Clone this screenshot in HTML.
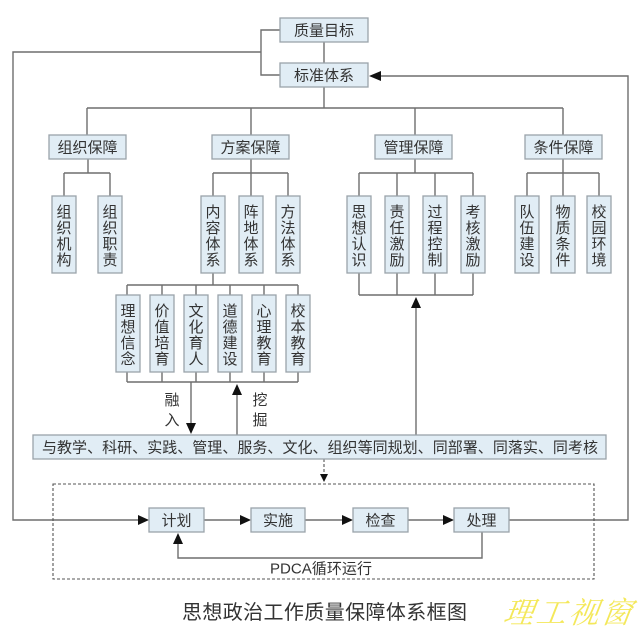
<!DOCTYPE html>
<html><head><meta charset="utf-8">
<style>
html,body{margin:0;padding:0;background:#fff;}
svg{display:block;}
text{font-family:"Liberation Sans","Noto Sans CJK SC",sans-serif;fill:#333;font-size:15px;}
.b{fill:#e1edf5;stroke:#9aa3aa;stroke-width:1.3;}
.l{stroke:#6e6e6e;stroke-width:1.4;fill:none;}
.d{stroke:#555;stroke-width:1.1;fill:none;stroke-dasharray:3,2;}
.ah{fill:#111;}
</style></head>
<body>
<svg width="640" height="636" viewBox="0 0 640 636" xmlns="http://www.w3.org/2000/svg">
<!-- connector lines -->
<path class="l" d="M324 42V63 M280 30H261V75H280 M261 52H13V520H140 M509 520H628V76H380 M324 87V108 M87 108H563 M87 108V135 M251 108V135 M415 108V135 M563 108V135"/>
<path class="l" d="M88 159V173 M64 173H110 M64 173V196 M110 173V196"/>
<path class="l" d="M251 159V173 M213 173H288 M213 173V196 M251 173V196 M288 173V196"/>
<path class="l" d="M415 159V173 M359 173H473 M359 173V196 M397 173V196 M435 173V196 M473 173V196"/>
<path class="l" d="M563 159V173 M527 173H599 M527 173V196 M563 173V196 M599 173V196"/>
<path class="l" d="M359 273V295 M397 273V295 M435 273V295 M473 273V295 M359 295H473 M416 306V435"/>
<path class="l" d="M213 273V285 M127 285H298 M127 285V295 M162 285V295 M196 285V295 M230 285V295 M264 285V295 M298 285V295"/>
<path class="l" d="M127 372V382 M162 372V382 M196 372V382 M230 372V382 M264 372V382 M298 372V382 M127 382H298 M191 382V425 M237 394V435"/>
<path class="l" d="M204 520H242 M305 520H344 M408 520H445 M482 532V558H178V543"/>
<!-- dashed -->
<rect class="d" x="53" y="484" width="541" height="95"/>
<path class="d" d="M324 459V476"/>
<!-- arrowheads -->
<polygon class="ah" points="369,76 381,71 381,81"/>
<polygon class="ah" points="416,297 411,308 421,308"/>
<polygon class="ah" points="191,434 186,423 196,423"/>
<polygon class="ah" points="237,384 232,395 242,395"/>
<polygon class="ah" points="324,482 320,474 328,474"/>
<polygon class="ah" points="149,520 138,515 138,525"/>
<polygon class="ah" points="251,520 240,515 240,525"/>
<polygon class="ah" points="353,520 342,515 342,525"/>
<polygon class="ah" points="454,520 443,515 443,525"/>
<polygon class="ah" points="178,533 173,544 183,544"/>
<!-- top boxes -->
<rect class="b" x="280" y="18" width="88" height="24"/>
<text x="324" y="35.5" text-anchor="middle">质量目标</text>
<rect class="b" x="280" y="63" width="88" height="24"/>
<text x="324" y="80.5" text-anchor="middle">标准体系</text>
<!-- level 2 -->
<rect class="b" x="49" y="135" width="77" height="24"/>
<text x="87.5" y="152.5" text-anchor="middle">组织保障</text>
<rect class="b" x="212" y="135" width="77" height="24"/>
<text x="250.5" y="152.5" text-anchor="middle">方案保障</text>
<rect class="b" x="375" y="135" width="77" height="24"/>
<text x="413.5" y="152.5" text-anchor="middle">管理保障</text>
<rect class="b" x="525" y="135" width="77" height="24"/>
<text x="563.5" y="152.5" text-anchor="middle">条件保障</text>
<!-- level 3 vertical boxes -->
<g text-anchor="middle">
<rect class="b" x="52" y="196" width="24" height="77"/>
<text x="64" y="217">组</text><text x="64" y="233">织</text><text x="64" y="249">机</text><text x="64" y="265">构</text>
<rect class="b" x="98" y="196" width="24" height="77"/>
<text x="110" y="217">组</text><text x="110" y="233">织</text><text x="110" y="249">职</text><text x="110" y="265">责</text>
<rect class="b" x="201" y="196" width="24" height="77"/>
<text x="213" y="217">内</text><text x="213" y="233">容</text><text x="213" y="249">体</text><text x="213" y="265">系</text>
<rect class="b" x="239" y="196" width="24" height="77"/>
<text x="251" y="217">阵</text><text x="251" y="233">地</text><text x="251" y="249">体</text><text x="251" y="265">系</text>
<rect class="b" x="276" y="196" width="24" height="77"/>
<text x="288" y="217">方</text><text x="288" y="233">法</text><text x="288" y="249">体</text><text x="288" y="265">系</text>
<rect class="b" x="347" y="196" width="24" height="77"/>
<text x="359" y="217">思</text><text x="359" y="233">想</text><text x="359" y="249">认</text><text x="359" y="265">识</text>
<rect class="b" x="385" y="196" width="24" height="77"/>
<text x="397" y="217">责</text><text x="397" y="233">任</text><text x="397" y="249">激</text><text x="397" y="265">励</text>
<rect class="b" x="423" y="196" width="24" height="77"/>
<text x="435" y="217">过</text><text x="435" y="233">程</text><text x="435" y="249">控</text><text x="435" y="265">制</text>
<rect class="b" x="461" y="196" width="24" height="77"/>
<text x="473" y="217">考</text><text x="473" y="233">核</text><text x="473" y="249">激</text><text x="473" y="265">励</text>
<rect class="b" x="515" y="196" width="24" height="77"/>
<text x="527" y="217">队</text><text x="527" y="233">伍</text><text x="527" y="249">建</text><text x="527" y="265">设</text>
<rect class="b" x="551" y="196" width="24" height="77"/>
<text x="563" y="217">物</text><text x="563" y="233">质</text><text x="563" y="249">条</text><text x="563" y="265">件</text>
<rect class="b" x="587" y="196" width="24" height="77"/>
<text x="599" y="217">校</text><text x="599" y="233">园</text><text x="599" y="249">环</text><text x="599" y="265">境</text>
<!-- level 4 -->
<rect class="b" x="116" y="295" width="24" height="77"/>
<text x="128" y="316">理</text><text x="128" y="332">想</text><text x="128" y="348">信</text><text x="128" y="364">念</text>
<rect class="b" x="150" y="295" width="24" height="77"/>
<text x="162" y="316">价</text><text x="162" y="332">值</text><text x="162" y="348">培</text><text x="162" y="364">育</text>
<rect class="b" x="184" y="295" width="24" height="77"/>
<text x="196" y="316">文</text><text x="196" y="332">化</text><text x="196" y="348">育</text><text x="196" y="364">人</text>
<rect class="b" x="218" y="295" width="24" height="77"/>
<text x="230" y="316">道</text><text x="230" y="332">德</text><text x="230" y="348">建</text><text x="230" y="364">设</text>
<rect class="b" x="252" y="295" width="24" height="77"/>
<text x="264" y="316">心</text><text x="264" y="332">理</text><text x="264" y="348">教</text><text x="264" y="364">育</text>
<rect class="b" x="286" y="295" width="24" height="77"/>
<text x="298" y="316">校</text><text x="298" y="332">本</text><text x="298" y="348">教</text><text x="298" y="364">育</text>
<!-- labels -->
<text x="172" y="405">融</text><text x="172" y="425">入</text>
<text x="260" y="405">挖</text><text x="260" y="425">掘</text>
</g>
<!-- long box -->
<rect class="b" x="33" y="435" width="573" height="24"/>
<text x="42" y="452.5" textLength="556" lengthAdjust="spacing">与教学、科研、实践、管理、服务、文化、组织等同规划、同部署、同落实、同考核</text>
<!-- PDCA -->
<rect class="b" x="149" y="508" width="55" height="24"/>
<text x="176.5" y="525.5" text-anchor="middle">计划</text>
<rect class="b" x="251" y="508" width="54" height="24"/>
<text x="278" y="525.5" text-anchor="middle">实施</text>
<rect class="b" x="353" y="508" width="55" height="24"/>
<text x="380.5" y="525.5" text-anchor="middle">检查</text>
<rect class="b" x="454" y="508" width="55" height="24"/>
<text x="481.5" y="525.5" text-anchor="middle">处理</text>
<text x="270" y="573.5" textLength="102" lengthAdjust="spacingAndGlyphs">PDCA循环运行</text>
<!-- title -->
<text x="182" y="619" style="font-size:20px;" textLength="285" lengthAdjust="spacing">思想政治工作质量保障体系框图</text>
<!-- watermark -->
<text x="510" y="623" style="font-size:30px;font-style:italic;fill:#f4e85a;font-family:'Liberation Serif','Noto Serif CJK SC',serif;" textLength="128" lengthAdjust="spacing" transform="skewX(-8) translate(80,0)">理工视窗</text>
</svg>
</body></html>
